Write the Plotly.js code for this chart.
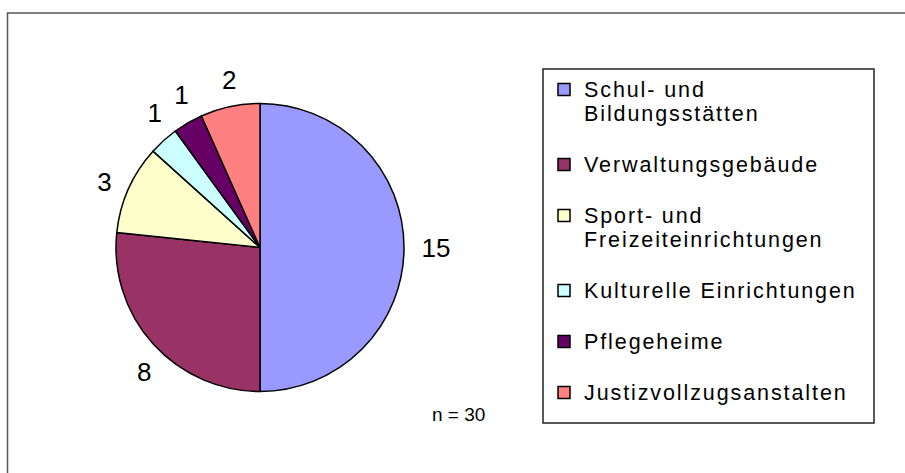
<!DOCTYPE html>
<html><head><meta charset="utf-8">
<script src="https://cdn.plot.ly/plotly-3.0.1.min.js"></script>
<style>body{margin:0;background:#fff} path.textline{stroke-opacity:0 !important} text.legendtext{letter-spacing:1.9px}</style>
</head><body><div id="chart" style="width:905px;height:473px"></div>
<script>
const categories = ["Schul- und<br>Bildungsstätten", "Verwaltungsgebäude", "Sport- und<br>Freizeiteinrichtungen", "Kulturelle Einrichtungen", "Pflegeheime", "Justizvollzugsanstalten"];
const values = [15, 8, 3, 1, 1, 2];
const colors = ["#9999FF", "#993366", "#FFFFCC", "#CCFFFF", "#660066", "#FF8080"];
const sampleNote = "n = 30";

const W = 905, H = 473;
const px = x => x / W;
const py = y => 1 - y / H;
const FONT = "Arial, 'Liberation Sans', sans-serif";

// legend labels: text lines at 21.5px plus a spacer line
const legendLabels = categories.map(c => {
  const parts = c.split("<br>").map(l => `<span style="font-size:21.5px">${l}</span>`);
  parts.push("\u00a0");
  return parts.join("<br>");
});

const pieDomain = {x: [px(116), px(404)], y: [py(391.5), py(103.5)]};
const labelDomain = {x: [px(106), px(414)], y: [py(401.5), py(93.5)]};

const mainPie = {
  type: "pie",
  labels: legendLabels,
  values: values,
  sort: false,
  direction: "clockwise",
  rotation: 0,
  marker: {colors: colors, line: {color: "#000", width: 1.5}},
  textinfo: "none",
  hoverinfo: "label+value+percent",
  domain: pieDomain
};

// value labels: transparent copies of the pie, each showing some of the values,
// so neighbouring labels keep their own place (label placement offsets in degrees)
const labelGroups = [
  {idx: [0, 2], turn: 0},
  {idx: [1], turn: -7},
  {idx: [4], turn: 5.5},
  {idx: [3, 5], turn: 6}
];
function labelPie(group) {
  return {
    type: "pie",
    labels: legendLabels,
    values: values,
    sort: false,
    direction: "clockwise",
    rotation: group.turn,
    marker: {colors: values.map(() => "rgba(0,0,0,0)"), line: {width: 0}},
    text: values.map((v, i) => group.idx.includes(i) ? String(v) : ""),
    textinfo: "text",
    textposition: "outside",
    outsidetextfont: {family: FONT, size: 26, color: "#000"},
    hoverinfo: "skip",
    showlegend: false,
    domain: labelDomain
  };
}

const layout = {
  width: W, height: H,
  margin: {l: 0, r: 0, t: 0, b: 0},
  paper_bgcolor: "#fff",
  font: {family: FONT, color: "#000"},
  showlegend: true,
  legend: {
    x: px(544), xanchor: "left", y: py(71), yanchor: "top",
    font: {family: FONT, size: 18.46, color: "#000"},
    valign: "top",
    bgcolor: "rgba(0,0,0,0)", borderwidth: 0
  },
  shapes: [
    {type: "rect", xref: "paper", yref: "paper", x0: px(7.5), x1: px(915), y0: py(13), y1: py(490),
     line: {color: "#555", width: 1.5}, fillcolor: "rgba(0,0,0,0)"},
    {type: "rect", xref: "paper", yref: "paper", x0: px(543), x1: px(874), y0: py(69), y1: py(423),
     line: {color: "#222", width: 1.5}, fillcolor: "rgba(0,0,0,0)"}
  ],
  annotations: [
    {text: sampleNote, xref: "paper", yref: "paper", x: px(458), y: py(414), showarrow: false,
     font: {family: FONT, size: 19, color: "#000"}, xanchor: "center", yanchor: "middle"}
  ]
};

Plotly.newPlot("chart", [mainPie].concat(labelGroups.map(labelPie)), layout, {displayModeBar: false, staticPlot: true});
</script>
</body></html>
